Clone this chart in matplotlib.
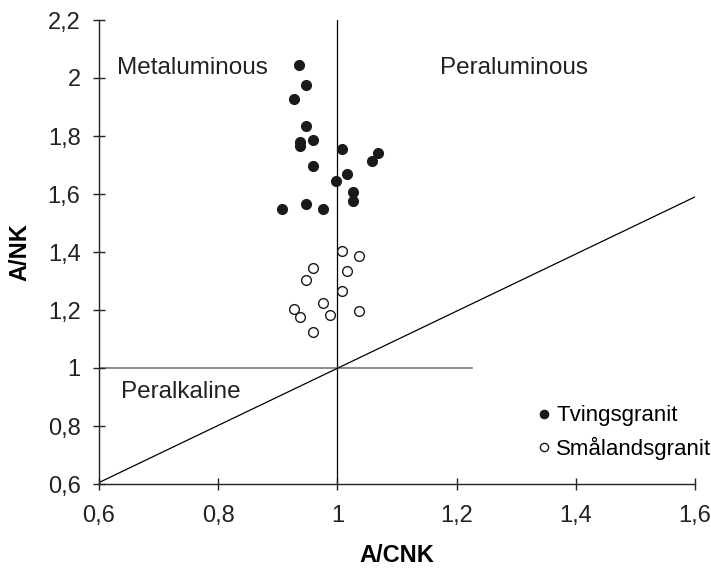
import numpy as np
import matplotlib.pyplot as plt
from matplotlib.ticker import FuncFormatter

plt.rcParams['font.family'] = ['Liberation Sans', 'DejaVu Sans']

# Tvingsgranit (filled)
tv_acnk = [0.935, 0.948, 0.927, 0.948, 0.937, 0.937, 0.959, 0.959, 1.008,
           1.068, 1.058, 1.016, 0.998, 1.027, 1.027, 0.907, 0.948, 0.976]
tv_ank = [2.045, 1.976, 1.928, 1.834, 1.779, 1.766, 1.785, 1.697, 1.755,
          1.742, 1.715, 1.668, 1.645, 1.606, 1.576, 1.547, 1.564, 1.547]

# Smålandsgranit (open)
sm_acnk = [1.008, 1.037, 0.959, 1.016, 0.948, 1.008, 0.976, 0.927, 0.937,
           0.988, 1.037, 0.959]
sm_ank = [1.403, 1.385, 1.345, 1.333, 1.303, 1.264, 1.224, 1.205, 1.177,
          1.183, 1.197, 1.125]

xticks = [0.6, 0.8, 1.0, 1.2, 1.4, 1.6]
yticks = [0.6, 0.8, 1.0, 1.2, 1.4, 1.6, 1.8, 2.0, 2.2]

fig = plt.figure(figsize=(7.11, 5.69), dpi=100)
ax = fig.add_axes([99 / 711, 85 / 569, 596 / 711, 464 / 569])

# field boundaries
ax.plot([1.0, 1.0], [0.6, 2.2], color='black', lw=0.9, zorder=1)
ax.plot([0.6, 1.225], [1.0, 1.0], color='#777777', lw=1.2, zorder=1)
ax.plot([0.6, 1.6], [0.605, 1.59], color='black', lw=0.9, zorder=1)

ax.plot(tv_acnk, tv_ank, 'o', ms=7, mfc='#1a1a1a', mec='#1a1a1a',
        label='Tvingsgranit', zorder=3)
ax.plot(sm_acnk, sm_ank, 'o', ms=7, mfc='white', mec='#1a1a1a', mew=1.0,
        label='Smålandsgranit', zorder=3)

ax.text(0.63, 2.034, 'Metaluminous', fontsize=17.5, va='center', color='#222222')
ax.text(1.172, 2.034, 'Peraluminous', fontsize=17.5, va='center', color='#222222')
ax.text(0.637, 0.917, 'Peralkaline', fontsize=17.5, va='center', color='#222222')

ax.set_xlim(0.6, 1.6)
ax.set_ylim(0.6, 2.2)
ax.set_xticks(xticks)
ax.set_yticks(yticks)
fmt = FuncFormatter(lambda v, p: ('%g' % round(v, 1)).replace('.', ','))
ax.xaxis.set_major_formatter(fmt)
ax.yaxis.set_major_formatter(fmt)
ax.tick_params(direction='inout', length=8.6, width=1, labelsize=17,
               colors='#222222')
ax.tick_params(axis='y', pad=9)
ax.tick_params(axis='x', pad=11)

for s in ['top', 'right']:
    ax.spines[s].set_visible(False)
for s in ['left', 'bottom']:
    ax.spines[s].set_linewidth(1)
    ax.spines[s].set_color('#222222')

ax.set_xlabel('A/CNK', fontsize=17, fontweight='bold', labelpad=12)
ax.set_ylabel('A/NK', fontsize=17, fontweight='bold', labelpad=12)

ax.legend(loc='center left', bbox_to_anchor=(0.735, 0.111), frameon=False,
          fontsize=16, markerscale=0.85, handlelength=0.6, handletextpad=0.27,
          labelspacing=0.45, borderpad=0, borderaxespad=0)

fig.savefig('out.png', dpi=100)
